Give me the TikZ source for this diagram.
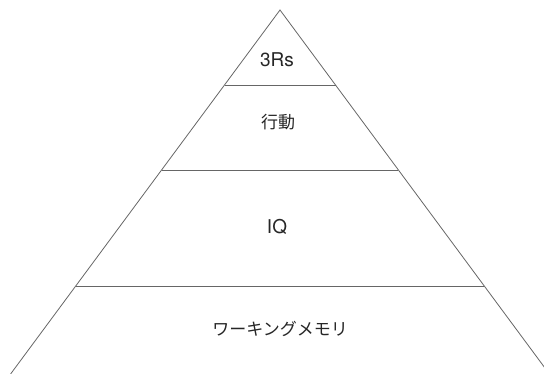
\documentclass[tikz,border=0pt]{standalone}
\usepackage{fontspec}
\setmainfont{Noto Sans CJK JP}
\newfontfamily\latinfont{TeX Gyre Heros}
\begin{document}
\begin{tikzpicture}[x=1pt,y=1pt,
  edge/.style={draw=black!60, line width=0.8pt},
  lbl/.style={text=black!85, font=\fontsize{17}{20}\selectfont, inner sep=0pt, anchor=center},
  llbl/.style={text=black!85, font=\latinfont\fontsize{19}{22}\selectfont, inner sep=0pt, anchor=center}]
\useasboundingbox (0,0) rectangle (544,374);
\clip (0,0) rectangle (544,374);
\coordinate (apex) at (280,364);
\coordinate (bl) at (10.6,0);
\coordinate (br) at (549.4,0);
\coordinate (a1) at (224.5,289);
\coordinate (b1) at (335.5,289);
\coordinate (a2) at (161.6,204);
\coordinate (b2) at (398.4,204);
\coordinate (a3) at (75.8,88);
\coordinate (b3) at (484.2,88);
\draw[edge] (bl) -- (apex) -- (br);
\draw[edge] (a1) -- (b1);
\draw[edge] (a2) -- (b2);
\draw[edge] (a3) -- (b3);
\node[llbl] (t1) at (277,314) {3Rs};
\node[lbl] (t2) at (278,252) {行動};
\node[llbl] (t3) at (277,147) {IQ};
\node[lbl] (t4) at (280,45) {ワーキングメモリ};
\end{tikzpicture}
\end{document}
